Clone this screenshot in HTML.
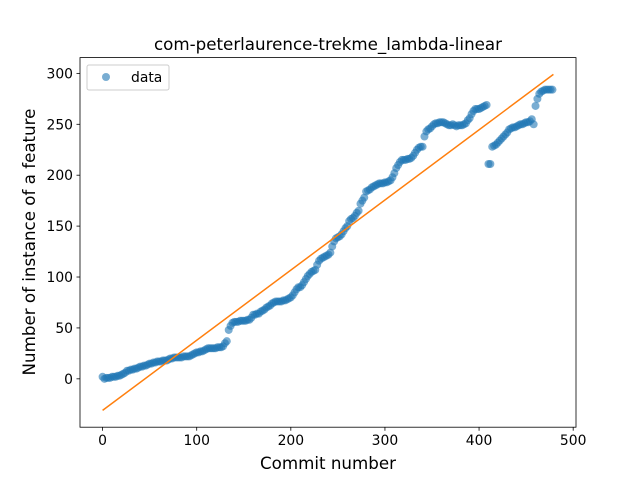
<!DOCTYPE html>
<html><head><meta charset="utf-8"><style>
body{margin:0;background:#fff;}
svg text{font-family:"DejaVu Sans","Liberation Sans",sans-serif;fill:#000;}
</style></head><body>
<svg id="chart" width="640" height="480" xmlns="http://www.w3.org/2000/svg">
<rect width="640" height="480" fill="#fff"/>
<text x="328" y="50" text-anchor="middle" font-size="16.7">com-peterlaurence-trekme_lambda-linear</text>
<g id="marks"></g>
<g id="axes"></g>
<text x="328" y="469" text-anchor="middle" font-size="16.7">Commit number</text>
<text transform="translate(35,242) rotate(-90)" text-anchor="middle" font-size="16.7">Number of instance of a feature</text>
<g>
<rect x="87" y="65" width="82" height="25" fill="#fff" fill-opacity="0.8" stroke="#ccc" rx="2"/>
<circle cx="106" cy="77" r="4" fill="#1f77b4" fill-opacity="0.6"/>
<text x="131" y="82" font-size="13.9">data</text>
</g>
</svg>
<script>
const commitStep=2;
const counts=[2,0,1,1,1,2,2,2,3,3,4,
5,6,8,8,9,9,10,10,11,12,
12,13,13,14,15,15,16,16,17,17,
17,18,18,18,19,20,20,21,21,21,
21,21,22,22,22,22,23,24,25,26,
26,27,27,28,29,30,30,30,30,30,
31,31,31,32,35,37,48,52,55,56,
56,56,57,57,57,57,58,58,60,63,
63,64,64,66,67,68,70,71,72,74,
75,76,76,76,76,77,77,78,79,80,
82,85,88,90,90,92,95,98,101,103,
105,106,107,112,116,118,119,120,121,122,
124,130,135,138,139,140,142,145,148,150,
155,157,158,160,163,165,172,175,178,184,
185,186,188,189,190,191,192,192,192,193,
193,194,195,198,202,207,210,213,215,215,
215,216,216,217,219,222,225,227,228,228,
238,243,245,246,248,250,251,251,252,252,
252,251,250,249,249,250,249,248,249,249,
249,250,251,254,256,260,263,265,265,265,
266,267,268,269,211,211,228,229,230,232,
234,236,238,240,242,245,246,247,247,248,
249,250,250,251,252,252,253,255,250,268,
275,280,282,283,284,284,284,284,284];
const fitStart=[0,-31];
const fitEnd=[479,299];
const xTicks=[0,100,200,300,400,500];
const yTicks=[0,50,100,150,200,250,300];
const L=80,R=576,T=57.6,B=427.2,x0=-24,x1=503,y0=-47.5,y1=315.5;
const sx=v=>L+(v-x0)/(x1-x0)*(R-L);
const sy=v=>B-(v-y0)/(y1-y0)*(B-T);
const NS="http://www.w3.org/2000/svg";
const mk=(t,a,p)=>{const e=document.createElementNS(NS,t);for(const k in a)e.setAttribute(k,a[k]);p.appendChild(e);return e;};
const marks=document.getElementById('marks'),axes=document.getElementById('axes');
counts.forEach((v,i)=>{
 const e=mk('circle',{cx:sx(i*commitStep),cy:sy(v),r:4,fill:'#1f77b4','fill-opacity':0.6},marks);
 
 
});
const ln=mk('line',{x1:sx(fitStart[0]),y1:sy(fitStart[1]),x2:sx(fitEnd[0]),y2:sy(fitEnd[1]),stroke:'#ff7f0e','stroke-width':1.5},marks);


const fr=mk('rect',{x:L,y:T,width:R-L,height:B-T,fill:'none',stroke:'#000','stroke-width':0.8},axes);


xTicks.forEach(t=>{
 mk('line',{x1:sx(t),x2:sx(t),y1:B,y2:B+3.5,stroke:'#000','stroke-width':0.8},axes);
 const tx=mk('text',{x:sx(t),y:B+18,'text-anchor':'middle','font-size':13.9},axes);
 tx.textContent=t;
 
 
});
yTicks.forEach(t=>{
 mk('line',{x1:L-3.5,x2:L,y1:sy(t),y2:sy(t),stroke:'#000','stroke-width':0.8},axes);
 const tx=mk('text',{x:L-7,y:sy(t)+5,'text-anchor':'end','font-size':13.9},axes);
 tx.textContent=t;
 
 
});
</script>
</body></html>
